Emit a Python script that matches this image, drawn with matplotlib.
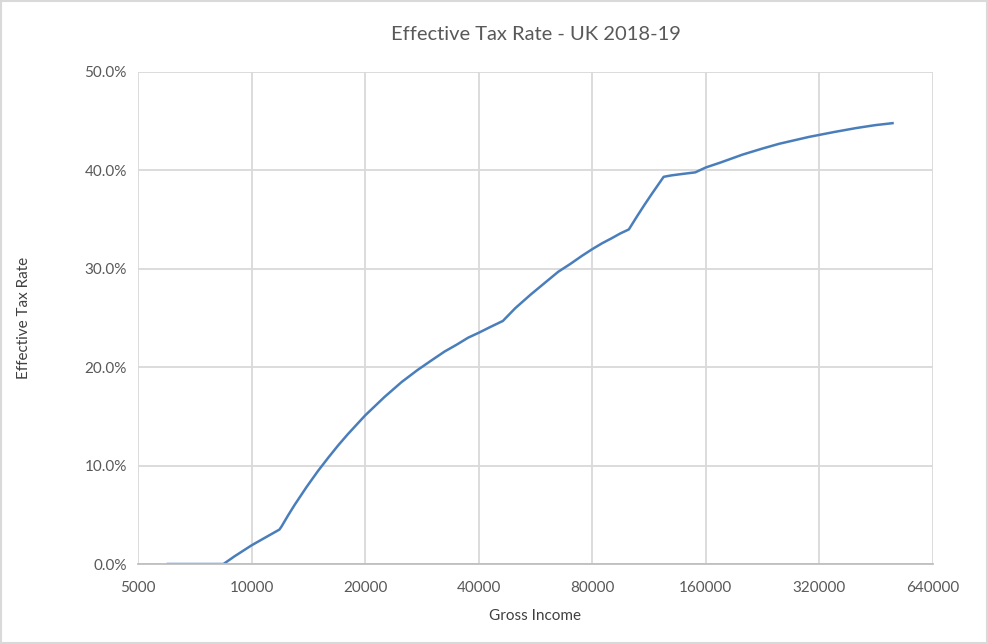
import matplotlib
matplotlib.use('Agg')
from matplotlib import pyplot as plt
from matplotlib.ticker import FixedLocator, FuncFormatter
from matplotlib.patches import Rectangle

# gross income (GBP) and effective tax rate (%)
income = [6000, 7000, 8000, 8424, 9000, 10000, 11000, 11850, 12000, 12500,
          13000, 14000, 15000, 16000, 17000, 18000, 20000, 22500, 25000,
          27500, 30000, 32500, 35000, 37500, 40000, 43000, 46350,
          50000, 55000, 60000, 65000, 70000, 75000, 80000, 85000, 90000,
          95000, 100000, 105000, 110000, 115000, 123700, 130000, 140000,
          150000, 160000, 175000, 200000, 225000, 250000, 300000, 350000,
          400000, 450000, 500000]
rate = [0.0, 0.0, 0.0, 0.0, 0.77, 1.9, 2.8, 3.5, 3.8, 4.95,
        6.0, 7.85, 9.46, 10.85, 12.1, 13.2, 15.1, 16.97, 18.5,
        19.7, 20.7, 21.6, 22.3, 23.0, 23.5, 24.1, 24.7,
        26.0, 27.4, 28.6, 29.7, 30.5, 31.3, 32.0, 32.6, 33.1,
        33.6, 34.0, 35.3, 36.5, 37.6, 39.35, 39.5, 39.66,
        39.8, 40.3, 40.8, 41.6, 42.2, 42.7, 43.4, 43.9,
        44.3, 44.6, 44.8]
xticks = [5000, 10000, 20000, 40000, 80000, 160000, 320000, 640000]
yticks = [0, 10, 20, 30, 40, 50]

plt.rcParams['font.family'] = ['Lato', 'DejaVu Sans']
txt = '#595959'
grid = '#d9d9d9'

fig = plt.figure(figsize=(9.88, 6.44), dpi=100)
fig.patches.append(Rectangle((0.001, 0.001), 0.998, 0.997, transform=fig.transFigure,
                             fill=False, edgecolor=grid, linewidth=1.5))
ax = fig.add_axes([0.1397, 0.1242, 0.8046, 0.7640])

ax.plot(income, rate, color='#4a7ebb', linewidth=1.8)

ax.set_xscale('log', base=2)
ax.set_xlim(5000, 640000)
ax.set_ylim(0, 50)
ax.xaxis.set_major_locator(FixedLocator(xticks))
ax.xaxis.set_minor_locator(FixedLocator([]))
ax.xaxis.set_major_formatter(FuncFormatter(lambda v, p: '%d' % round(v)))
ax.yaxis.set_major_locator(FixedLocator(yticks))
ax.yaxis.set_major_formatter(FuncFormatter(lambda v, p: '%.1f%%' % v))

ax.grid(True, color=grid, linewidth=1.3)
ax.set_axisbelow(True)
for s in ['top', 'right', 'left']:
    ax.spines[s].set_visible(False)
ax.spines['bottom'].set_color('#bfbfbf')
ax.spines['bottom'].set_linewidth(1.3)
ax.tick_params(length=0, labelsize=11, colors=txt, pad=8)
ax.tick_params(axis='x', pad=12)

ax.set_title('Effective Tax Rate - UK 2018-19', fontsize=14.5, color=txt, pad=23)
ax.set_xlabel('Gross Income', fontsize=11, color='#404040', labelpad=10)
ax.set_ylabel('Effective Tax Rate', fontsize=11, color='#404040')
ax.yaxis.set_label_coords(-0.135, 0.5)

fig.savefig('out.png', dpi=100)
